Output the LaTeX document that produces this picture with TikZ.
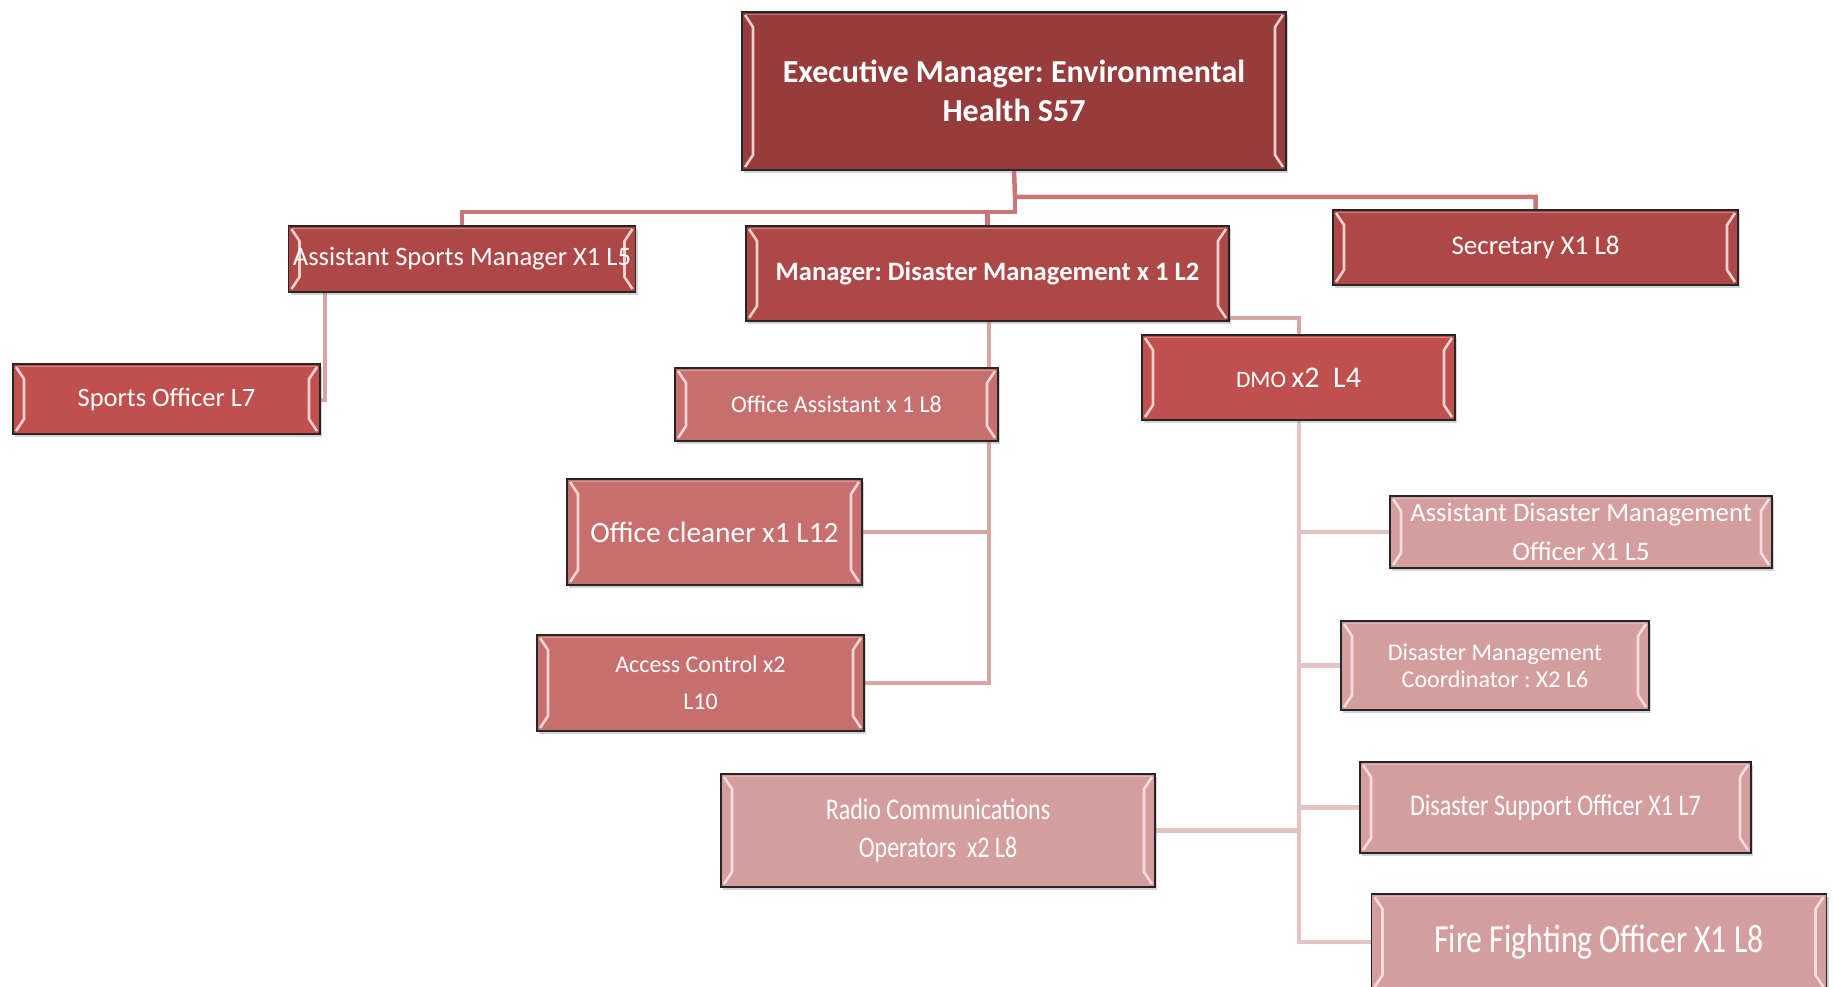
\documentclass[tikz,border=0pt]{standalone}
\usepackage{fontspec}
\setmainfont{Carlito}
\newfontfamily\narrowfont{Carlito}[FakeStretch=0.8]
\usetikzlibrary{shadows,backgrounds}
\frenchspacing

\definecolor{cTop}{HTML}{963C3C}
\definecolor{cMid}{HTML}{AE4846}
\definecolor{cRed}{HTML}{C0504D}
\definecolor{cRose}{HTML}{C76F6F}
\definecolor{cPale}{HTML}{D49E9E}
\definecolor{lnA}{HTML}{C97676}
\definecolor{lnB}{HTML}{D8A4A4}
\definecolor{lnC}{HTML}{E6C3C3}
\definecolor{bevel}{HTML}{FCE8E8}

\tikzset{
  box/.style={draw=black!85, line width=1.6pt, inner sep=0pt, align=center,
    text=white,
    drop shadow={opacity=0.35, shadow xshift=2pt, shadow yshift=-3pt},
    path picture={
      \draw[bevel, opacity=0.85, line width=2.6pt, line join=round]
        ([shift={(3pt,-3pt)}]path picture bounding box.north west) -- ++(8pt,-12pt)
        -- ([shift={(11pt,15pt)}]path picture bounding box.south west) -- ++(-8pt,-12pt);
      \draw[bevel, opacity=0.85, line width=2.6pt, line join=round]
        ([shift={(-3pt,-3pt)}]path picture bounding box.north east) -- ++(-8pt,-12pt)
        -- ([shift={(-11pt,15pt)}]path picture bounding box.south east) -- ++(8pt,-12pt);
      \draw[bevel, opacity=0.35, line width=1.2pt]
        ([shift={(4pt,-2.5pt)}]path picture bounding box.north west)
        -- ([shift={(-4pt,-2.5pt)}]path picture bounding box.north east);
    }},
  link/.style={line width=4.5pt, line cap=butt, line join=miter},
}

\begin{document}
\begin{tikzpicture}[x=1pt,y=-1pt]
\useasboundingbox (0,0) rectangle (1833,987);

% top level
\node[box, fill=cTop, minimum width=544, minimum height=158,
  font=\bfseries\fontsize{32}{39}\selectfont] (exec) at (1014,91)
  {Executive Manager: Environmental\\Health S57};

% second level
\node[box, fill=cMid, minimum width=347, minimum height=66,
  font=\fontsize{26.6}{30}\selectfont] (asm) at (462,259)
  {Assistant Sports Manager X1 L5};
\node[box, fill=cMid, minimum width=483, minimum height=95,
  font=\bfseries\fontsize{26.6}{30}\selectfont] (mgr) at (987.5,273.5)
  {Manager: Disaster Management x 1 L2};
\node[box, fill=cMid, minimum width=405, minimum height=75,
  font=\fontsize{27}{30}\selectfont] (sec) at (1535.5,247.5)
  {Secretary X1 L8};

% sports
\node[box, fill=cRed, minimum width=307, minimum height=70,
  font=\fontsize{26.5}{30}\selectfont] (so) at (166.5,399)
  {Sports Officer L7};

% disaster management office
\node[box, fill=cRose, minimum width=323, minimum height=73,
  font=\fontsize{24}{28}\selectfont] (oa) at (836.5,404.5)
  {Office Assistant x 1 L8};
\node[box, fill=cRed, minimum width=313, minimum height=85] (dmo) at (1298.5,377.5)
  {\fontsize{23.5}{28}\selectfont DMO \fontsize{30}{32}\selectfont x2\ \ L4};
\node[box, fill=cRose, minimum width=295, minimum height=106,
  font=\fontsize{29.4}{33}\selectfont] (oc) at (714.5,532)
  {Office cleaner x1 L12};
\node[box, fill=cRose, minimum width=327, minimum height=96,
  font=\fontsize{24}{37}\selectfont] (acc) at (700.5,683)
  {Access Control x2\\L10};

% DMO staff
\node[box, fill=cPale, minimum width=382, minimum height=72,
  font=\fontsize{26.7}{39}\selectfont] (admo) at (1581,532)
  {Assistant Disaster Management\\Officer X1 L5};
\node[box, fill=cPale, minimum width=308, minimum height=89,
  font=\fontsize{24}{27}\selectfont] (dmc) at (1495,665.5)
  {Disaster Management\\Coordinator : X2 L6};
\node[box, fill=cPale, minimum width=434, minimum height=113,
  font=\narrowfont\fontsize{30}{38}\selectfont] (rco) at (938,830.5)
  {Radio Communications\\Operators\ \ x2 L8};
\node[box, fill=cPale, minimum width=391, minimum height=91,
  font=\narrowfont\fontsize{30}{34}\selectfont] (dso) at (1555.5,807.5)
  {Disaster Support Officer X1 L7};
\node[box, fill=cPale, minimum width=455, minimum height=96,
  font=\narrowfont\fontsize{39.8}{44}\selectfont] (ffo) at (1599,942)
  {Fire Fighting Officer X1 L8};

% junction points
\coordinate (jTop) at (1015,197);
\coordinate (jLeft) at (1015,212);
\coordinate (jSport) at (325,400);
\coordinate (jMgr) at (989,683);
\coordinate (jDmo) at (1299,318);
\coordinate (jStaff) at (1299,942);

\begin{pgfonlayer}{background}
  % executive to second level
  \draw[link, lnA] (exec.south) -- (jTop) -| (sec.north);
  \draw[link, lnA] (jTop) -- (jLeft) -| (asm.north);
  \draw[link, lnA] (mgr.north |- jLeft) -- (mgr.north);
  % sports
  \draw[link, lnB] (jSport |- asm.south) -- (jSport) -- (so.east |- jSport);
  % manager's office staff
  \draw[link, lnB] (mgr.south -| jMgr) -- (jMgr) -- (acc.east |- jMgr);
  \draw[link, lnB] (oc.east) -- (oc.east -| jMgr);
  % manager to DMO
  \draw[link, lnB] (jDmo -| mgr.east) -- (jDmo) -- (dmo.north -| jDmo);
  % DMO staff
  \draw[link, lnC] (dmo.south -| jStaff) -- (jStaff) -- (ffo.west |- jStaff);
  \draw[link, lnC] (admo.west -| jStaff) -- (admo.west);
  \draw[link, lnC] (dmc.west -| jStaff) -- (dmc.west);
  \draw[link, lnC] (dso.west -| jStaff) -- (dso.west);
  \draw[link, lnC] (rco.east) -- (rco.east -| jStaff);
\end{pgfonlayer}
\end{tikzpicture}
\end{document}
